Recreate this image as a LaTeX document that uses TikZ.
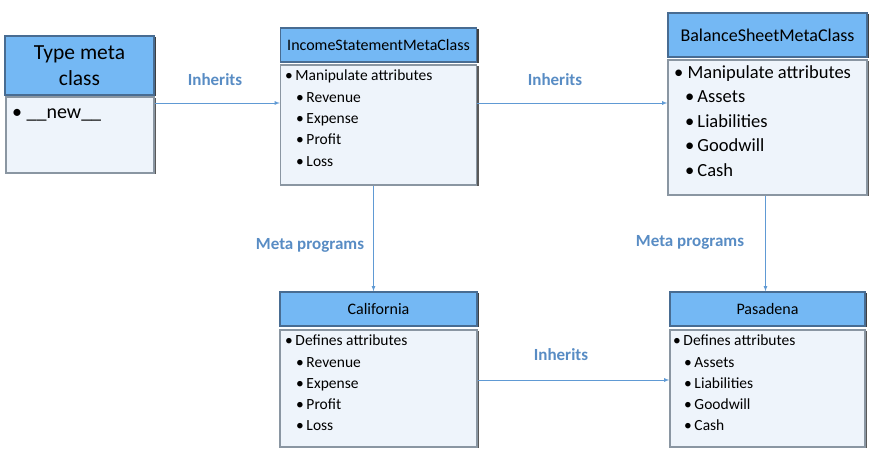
\documentclass[tikz,border=0pt]{standalone}
\usepackage{fontspec}
\setmainfont{Carlito}
\usetikzlibrary{shadows}
\definecolor{hdfill}{RGB}{116,184,244}
\definecolor{hdline}{RGB}{72,108,146}
\definecolor{bdfill}{RGB}{238,244,251}
\definecolor{bdline}{RGB}{138,150,162}
\definecolor{arrcol}{RGB}{96,154,212}
\definecolor{lblcol}{RGB}{88,140,196}
\tikzset{
  head/.style={draw=hdline,fill=hdfill,line width=1.6pt,inner sep=0pt,
    drop shadow={shadow xshift=2pt,shadow yshift=-1pt,fill=black!75,opacity=1}},
  body/.style={draw=bdline,fill=bdfill,line width=1.4pt,inner sep=0pt,
    drop shadow={shadow xshift=2pt,shadow yshift=-1pt,fill=black!65,opacity=1}},
  items/.style={anchor=north west,align=left,inner sep=0pt},
  arr/.style={draw=arrcol,line width=0.8pt,-latex},
  lbl/.style={text=lblcol,font=\bfseries\fontsize{17}{19}\selectfont}
}
\newcommand{\sub}{\hspace*{11pt}•\,}
\begin{document}
\begin{tikzpicture}[x=1pt,y=-1pt]
\useasboundingbox (0,0) rectangle (887,469);
% type meta class
\node[head,minimum width=149pt,minimum height=59pt,align=center,
  font=\fontsize{21.5}{26}\selectfont] (typH) at (79.5,65.5) {Type meta\\class};
\node[body,minimum width=148pt,minimum height=76pt] (typB) at (80,135) {};
\node[items,font=\fontsize{20}{24}\selectfont] (typI) at (12,109) {•\ \_\_new\_\_};
% income statement
\node[head,minimum width=196pt,minimum height=34pt,font=\fontsize{16}{18}\selectfont] (incH) at (378.5,45) {IncomeStatementMetaClass};
\node[body,minimum width=196pt,minimum height=120pt] (incB) at (378.5,125) {};
\node[items,font=\fontsize{15.5}{21.3}\selectfont] (incI) at (285,70)
  {•\,Manipulate attributes\\\sub Revenue\\\sub Expense\\\sub Profit\\\sub Loss};
% balance sheet
\node[head,minimum width=199pt,minimum height=44pt,font=\fontsize{18}{20}\selectfont] (balH) at (767.5,35) {BalanceSheetMetaClass};
\node[body,minimum width=199pt,minimum height=135pt] (balB) at (767.5,127.5) {};
\node[items,font=\fontsize{18.5}{24.5}\selectfont] (balI) at (674,65)
  {•\ Manipulate attributes\\\sub Assets\\\sub Liabilities\\\sub Goodwill\\\sub Cash};
% california
\node[head,minimum width=197pt,minimum height=34pt,font=\fontsize{16}{18}\selectfont] (calH) at (378.5,309) {California};
\node[body,minimum width=197pt,minimum height=117pt] (calB) at (378.5,388.5) {};
\node[items,font=\fontsize{15.5}{21.2}\selectfont] (calI) at (285,335)
  {•\,Defines attributes\\\sub Revenue\\\sub Expense\\\sub Profit\\\sub Loss};
% pasadena
\node[head,minimum width=195pt,minimum height=34pt,font=\fontsize{16}{18}\selectfont] (pasH) at (767.5,309) {Pasadena};
\node[body,minimum width=195pt,minimum height=117pt] (pasB) at (767.5,388.5) {};
\node[items,font=\fontsize{15.5}{21.2}\selectfont] (pasI) at (673,335)
  {•\,Defines attributes\\\sub Assets\\\sub Liabilities\\\sub Goodwill\\\sub Cash};
% connectors
\draw[arr] ([yshift=32pt]typB.east) -- ([yshift=32pt]typB.east -| incB.west);
\draw[arr] ([yshift=22pt]incB.east) -- ([yshift=22pt]incB.east -| balB.west);
\draw[arr] ([yshift=8.5pt]calB.east) -- ([yshift=8.5pt]calB.east -| pasB.west);
\draw[arr] ([xshift=-5pt]incB.south) -- ([xshift=-5pt]calH.north);
\draw[arr] ([xshift=-2pt]balB.south) -- ([xshift=-2pt]pasH.north);
\node[lbl] (inh1) at (215,80) {Inherits};
\node[lbl] (inh2) at (555,80) {Inherits};
\node[lbl] (inh3) at (561,355) {Inherits};
\node[lbl] (meta1) at (310,245) {Meta programs};
\node[lbl] (meta2) at (690,242) {Meta programs};
\end{tikzpicture}
\end{document}
